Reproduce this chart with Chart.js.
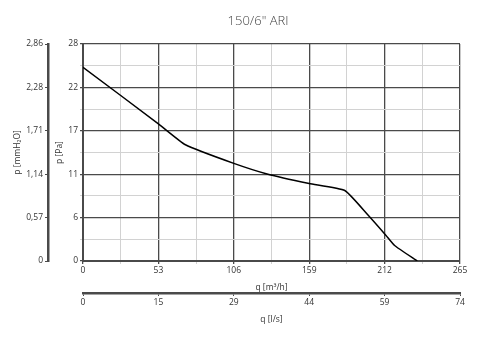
<!DOCTYPE html>
<html>
<head>
<meta charset="utf-8">
<script src="https://cdn.jsdelivr.net/npm/chart.js@4"></script>
<style>
  html, body { margin: 0; padding: 0; background: #fff; }
  #wrap { width: 488px; height: 340px; }
</style>
</head>
<body>
<div id="wrap"><canvas id="fan-graph" width="488" height="340"></canvas></div>
<script>
const flowM3h = [0, 53, 72, 106, 130, 159, 184, 200, 213, 219, 235];
const pressurePa = [25.0, 17.7, 15.0, 12.6, 11.2, 10.0, 9.1, 6.0, 3.3, 2.0, 0];
const xM3Labels = ['0', '53', '106', '159', '212', '265'];
const xLsLabels = ['0', '15', '29', '44', '59', '74'];
const yPaLabels = ['0', '6', '11', '17', '22', '28'];
const yMmLabels = ['0', '0,57', '1,14', '1,71', '2,28', '2,86'];
const chartTitle = '150/6" ARI';

const major = '#4a4a4a';
const minor = '#d2d2d2';
const txt = '#333';
const tickFont = { family: 'Open Sans', size: 8.5 };
const titleFont = { family: 'Open Sans', size: 8.5 };

// ticks spread evenly over the axis range, n steps
function evenTicks(n) {
  return function(scale) {
    const t = [];
    for (let i = 0; i <= n; i++) t.push({ value: scale.max * i / n });
    scale.ticks = t;
  };
}

// title sits a bit right of the canvas centre in the original
const titlePlugin = {
  id: 'offTitle',
  afterDraw(chart) {
    const c = chart.ctx;
    c.save();
    c.font = '300 13px "Open Sans"';
    c.fillStyle = '#444';
    c.textAlign = 'center';
    c.textBaseline = 'middle';
    c.fillText(chartTitle, 258, 21);
    c.restore();
  }
};

const points = flowM3h.map((q, i) => ({ x: q, y: pressurePa[i] }));

new Chart(document.getElementById('fan-graph'), {
  type: 'line',
  data: {
    datasets: [{
      data: points,
      borderColor: '#000',
      borderWidth: 1.5,
      pointRadius: 0,
      tension: 0.15,
      xAxisID: 'x',
      yAxisID: 'y'
    }]
  },
  plugins: [titlePlugin],
  options: {
    responsive: false,
    animation: false,
    layout: { padding: { left: 0, right: 28, top: 44, bottom: 13 } },
    plugins: {
      legend: { display: false },
      tooltip: { enabled: false },
      title: { display: false }
    },
    scales: {
      x: {
        type: 'linear', position: 'bottom', weight: 0,
        min: 0, max: 265,
        afterBuildTicks: evenTicks(10),
        afterFit: s => { s.height = 32; },
        grid: {
          color: c => c.index % 2 ? minor : major,
          lineWidth: c => c.index % 2 ? 1 : 1.3,
          tickLength: 3
        },
        border: { color: major, width: 2 },
        ticks: {
          autoSkip: false, maxRotation: 0, color: txt, font: tickFont, padding: 1,
          callback: (v, i) => i % 2 ? '' : xM3Labels[i / 2]
        },
        title: { display: true, text: 'q [m³/h]', color: txt, font: titleFont, padding: 0 }
      },
      x2: {
        type: 'linear', position: 'bottom', weight: 1,
        min: 0, max: 74,
        afterBuildTicks: evenTicks(5),
        afterFit: s => { s.height = 34; },
        grid: { drawOnChartArea: false, color: major, tickLength: 3 },
        border: { color: major, width: 2.5 },
        ticks: {
          autoSkip: false, maxRotation: 0, color: txt, font: tickFont, padding: 1,
          callback: (v, i) => xLsLabels[i]
        },
        title: { display: true, text: 'q [l/s]', color: txt, font: titleFont, padding: 2 }
      },
      y: {
        type: 'linear', position: 'left', weight: 0,
        min: 0, max: 28,
        afterBuildTicks: evenTicks(10),
        afterFit: s => { s.width = 35; },
        grid: {
          color: c => c.index % 2 ? minor : major,
          lineWidth: c => c.index % 2 ? 1 : 1.3,
          tickLength: 3
        },
        border: { color: major, width: 2 },
        ticks: {
          autoSkip: false, color: txt, font: tickFont, padding: 2,
          callback: (v, i) => i % 2 ? '' : yPaLabels[i / 2]
        },
        title: { display: true, text: 'p [Pa]', color: txt, font: titleFont, padding: { top: 6, bottom: 0 } }
      },
      y2: {
        type: 'linear', position: 'left', weight: 1,
        min: 0, max: 2.86,
        afterBuildTicks: evenTicks(5),
        afterFit: s => { s.width = 48; },
        grid: { drawOnChartArea: false, color: major, tickLength: 3 },
        border: { color: major, width: 2.5 },
        ticks: {
          autoSkip: false, color: txt, font: tickFont, padding: 2,
          callback: (v, i) => yMmLabels[i]
        },
        title: { display: true, text: 'p [mmH₂O]', color: txt, font: titleFont, padding: { top: 12, bottom: 0 } }
      }
    }
  }
});
</script>
</body>
</html>
